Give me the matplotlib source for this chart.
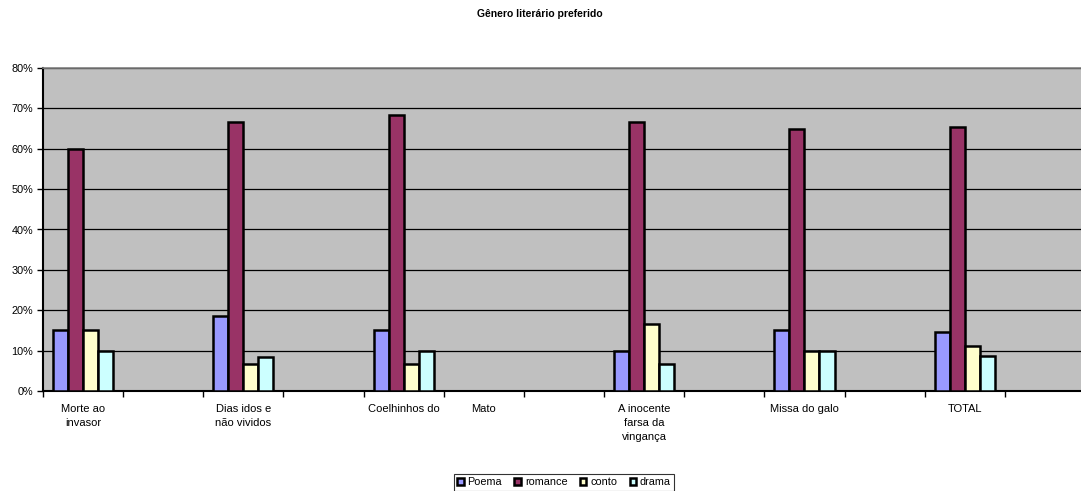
import matplotlib
matplotlib.use("Agg")
import matplotlib.pyplot as plt
import numpy as np

plt.rcParams['font.family'] = ['Liberation Sans', 'DejaVu Sans']

categories = ["Morte ao\ninvasor", "", "Dias idos e\nnão vividos", "", "Coelhinhos do",
              "Mato", "", "A inocente\nfarsa da\nvingança", "", "Missa do galo", "",
              "TOTAL", ""]
series_names = ["Poema", "romance", "conto", "drama"]
poema = [15.0, None, 18.6, None, 15.0, None, None, 10.0, None, 15.0, None, 14.7, None]
romance = [60.0, None, 66.7, None, 68.3, None, None, 66.7, None, 65.0, None, 65.4, None]
conto = [15.0, None, 6.6, None, 6.7, None, None, 16.7, None, 10.0, None, 11.1, None]
drama = [10.0, None, 8.3, None, 10.0, None, None, 6.7, None, 10.0, None, 8.6, None]
colors = ["#9999FF", "#993366", "#FFFFCC", "#CCFFFF"]
yticks = [0, 10, 20, 30, 40, 50, 60, 70, 80]

fig = plt.figure(figsize=(10.81, 4.91), dpi=100)
ax = fig.add_axes([43 / 1081, 100 / 491, 1042 / 1081, 323 / 491])
ax.set_facecolor("#C0C0C0")

n = len(categories)
x = np.arange(n)
w = 0.1875
for i, (vals, name, c) in enumerate(zip([poema, romance, conto, drama], series_names, colors)):
    xs = [xi + (i - 1.5) * w for xi, v in zip(x, vals) if v is not None]
    hs = [v for v in vals if v is not None]
    ax.bar(xs, hs, width=w, color=c, edgecolor="black", linewidth=1.8, label=name, zorder=3)

ax.set_xlim(-0.5, n - 0.5)
ax.set_ylim(0, 80)
ax.set_yticks(yticks)
ax.set_yticklabels([f"{t}%" for t in yticks], fontsize=7.8)
ax.yaxis.grid(True, color="black", linewidth=0.9, zorder=1)
ax.set_axisbelow(True)

# category boundaries carry the tick marks, labels sit at the slot centres
ax.set_xticks(np.arange(n + 1) - 0.5)
ax.set_xticklabels([])
ax.set_xticks(x, minor=True)
ax.set_xticklabels(categories, minor=True, fontsize=8, va="top", ha="center",
                   linespacing=1.5)
ax.tick_params(axis="x", which="minor", length=0, pad=9)
ax.tick_params(axis="x", which="major", length=4, width=1, direction="out")
ax.tick_params(axis="y", length=4, width=1, direction="out", pad=3)

for s in ["top", "right"]:
    ax.spines[s].set_color("#808080")
    ax.spines[s].set_linewidth(1.2)
ax.spines["left"].set_linewidth(1.5)
ax.spines["bottom"].set_linewidth(1.5)

fig.text(540 / 1081, 1 - 14 / 491, "Gênero literário preferido", ha="center", va="center",
         fontsize=7.5, fontweight="bold")

leg = fig.legend(loc="upper center", bbox_to_anchor=(564 / 1081, 1 - 474 / 491), ncol=4,
                 fontsize=7.8, frameon=True, fancybox=False, edgecolor="black",
                 handlelength=0.6, handleheight=0.6, handletextpad=0.35, columnspacing=1.15,
                 borderpad=0.3, borderaxespad=0)
leg.get_frame().set_linewidth(0.8)

fig.savefig("out.png", dpi=100)
